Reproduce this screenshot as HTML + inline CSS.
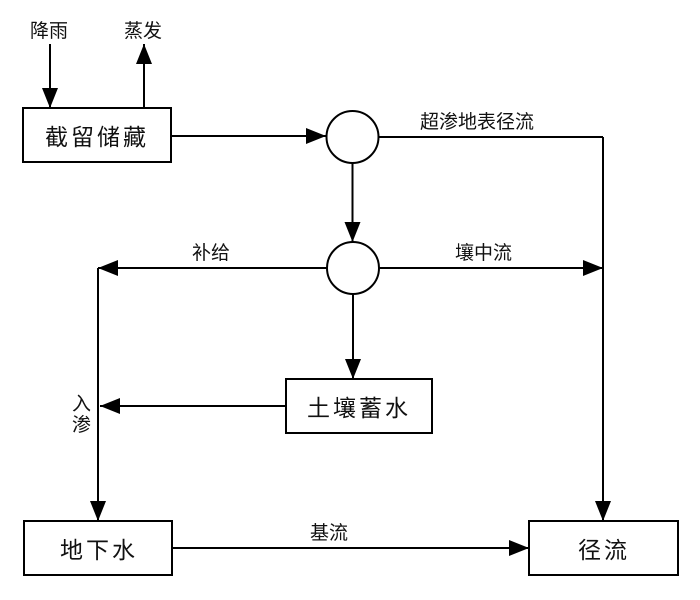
<!DOCTYPE html>
<html><head><meta charset="utf-8"><style>
html,body{margin:0;padding:0;background:#fff;}
svg text{font-family:"Liberation Sans","Noto Sans CJK SC",sans-serif;fill:#111;}
</style></head><body>
<svg width="700" height="595" viewBox="0 0 700 595" xmlns="http://www.w3.org/2000/svg">
<defs><marker id="a" markerWidth="10" markerHeight="10" refX="10" refY="5" orient="auto" markerUnits="userSpaceOnUse" viewBox="0 0 10 10"><path d="M0,0 L10,5 L0,10 z" fill="#000"/></marker>
<marker id="b" markerWidth="20" markerHeight="16" refX="20" refY="8" orient="auto" markerUnits="userSpaceOnUse"><path d="M0,0 L20,8 L0,16 z" fill="#000"/></marker></defs>
<g stroke="#000" stroke-width="2" fill="none">
<rect x="23" y="108" width="148" height="54"/>
<rect x="286" y="379" width="146" height="54"/>
<rect x="24" y="521" width="148" height="54"/>
<rect x="529" y="521" width="149" height="54"/>
<circle cx="352.5" cy="137" r="26"/>
<circle cx="353" cy="268" r="26"/>
<line x1="50" y1="44" x2="50" y2="108" marker-end="url(#b)"/>
<line x1="144" y1="108" x2="144" y2="44" marker-end="url(#b)"/>
<line x1="171" y1="136" x2="326" y2="136" marker-end="url(#b)"/>
<line x1="378" y1="137" x2="603" y2="137"/>
<line x1="352.5" y1="163" x2="352.5" y2="242" marker-end="url(#b)"/>
<line x1="327" y1="268" x2="98" y2="268" marker-end="url(#b)"/>
<line x1="379" y1="268" x2="603" y2="268" marker-end="url(#b)"/>
<line x1="353" y1="294" x2="353" y2="379" marker-end="url(#b)"/>
<line x1="286" y1="406" x2="100" y2="406" marker-end="url(#b)"/>
<line x1="98" y1="268" x2="98" y2="521" marker-end="url(#b)"/>
<line x1="603" y1="137" x2="603" y2="521" marker-end="url(#b)"/>
<line x1="172" y1="548" x2="529" y2="548" marker-end="url(#b)"/>
</g>
<g font-size="19">
<text x="30" y="37">降雨</text>
<text x="124" y="37">蒸发</text>
<text x="420" y="128">超渗地表径流</text>
<text x="192" y="259">补给</text>
<text x="455" y="259">壤中流</text>
<text x="72" y="410">入</text>
<text x="72" y="431">渗</text>
<text x="310" y="539">基流</text>
</g>
<g font-size="23">
<text x="45" y="145" letter-spacing="3">截留储藏</text>
<text x="307" y="416" letter-spacing="3">土壤蓄水</text>
<text x="60" y="558" letter-spacing="3">地下水</text>
<text x="578" y="558" letter-spacing="3">径流</text>
</g>
</svg>
</body></html>
